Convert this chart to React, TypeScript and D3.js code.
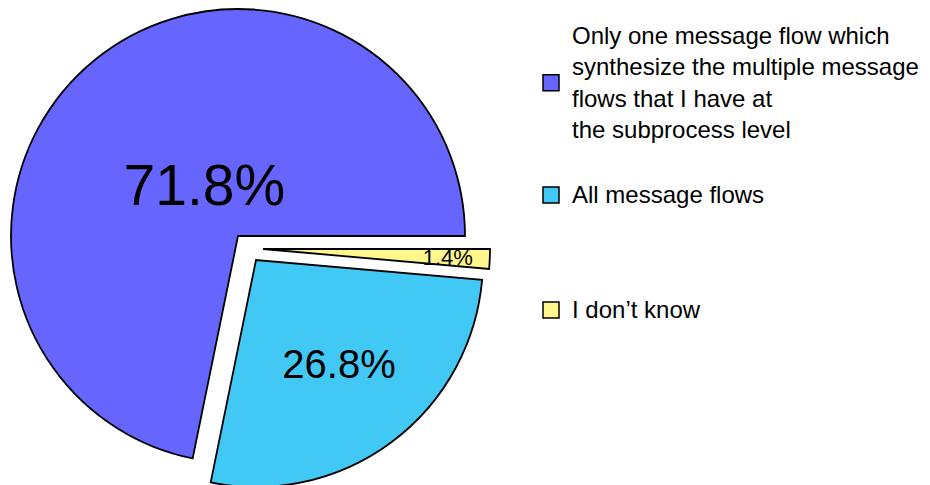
import React from "react";
import * as d3 from "d3";

const categories: string[] = [
  "Only one message flow which|synthesize the multiple message|flows that I have at|the subprocess level",
  "All message flows",
  "I don\u2019t know",
];
const values: number[] = [71.8, 26.8, 1.4];
const colors: string[] = ["#6666ff", "#42c8f4", "#fff68c"];

const W = 930;
const H = 485;
const CX = 238;
const CY = 236;
const R = 227;
// explode offsets (px) per slice
const EXPLODE: [number, number][] = [[0, 0], [18, 24], [25, 13]];
const LABEL_R = [0.27, 0.585, 0.815];
const LABEL_ROT = [-6, 2, 0];
const LABEL_SIZE = [57, 40, 22];
const FONT = "'Liberation Sans', Arial, sans-serif";

export default function App() {
  const pie = d3
    .pie<number>()
    .sort(null)
    .startAngle(Math.PI / 2)
    .endAngle(Math.PI / 2 - 2 * Math.PI);
  const arcs = pie(values);
  const arc = d3.arc<d3.PieArcDatum<number>>().innerRadius(0).outerRadius(R);

  const legendX = 572;
  const legendSq = 543;
  const legendBaselines = [43.5, 203, 318];
  const lineGap = 31.5;

  return (
    <svg
      width={W}
      height={H}
      style={{ position: "absolute", left: 0, top: 0, background: "#fff" }}
      fontFamily={FONT}
    >
      {arcs.map((a, i) => {
        const [ox, oy] = EXPLODE[i];
        const mid = (a.startAngle + a.endAngle) / 2 - (LABEL_ROT[i] * Math.PI) / 180;
        const lr = LABEL_R[i] * R;
        const lx = Math.sin(mid) * lr;
        const ly = -Math.cos(mid) * lr;
        return (
          <g key={i} transform={`translate(${CX + ox},${CY + oy})`}>
            <path
              d={arc(a) || ""}
              fill={colors[i]}
              stroke="#000"
              strokeWidth={1.8}
              strokeLinejoin="miter"
            />
            <text
              x={lx}
              y={ly}
              textAnchor="middle"
              dominantBaseline="central"
              fontSize={LABEL_SIZE[i]}
              fill="#000"
            >
              {`${values[i].toFixed(1)}%`}
            </text>
          </g>
        );
      })}
      {categories.map((c, i) => {
        const lines = c.split("|");
        const b0 = legendBaselines[i];
        const n = lines.length;
        const lastBase = b0 + (n - 1) * lineGap;
        const midY = (b0 - 16 + lastBase) / 2;
        return (
          <g key={i}>
            <rect
              x={legendSq}
              y={midY - 8}
              width={16}
              height={16}
              fill={colors[i]}
              stroke="#000"
              strokeWidth={1.5}
            />
            <text x={legendX} fontSize={24} fill="#000">
              {lines.map((l, j) => (
                <tspan key={j} x={legendX} y={b0 + j * lineGap}>
                  {l}
                </tspan>
              ))}
            </text>
          </g>
        );
      })}
    </svg>
  );
}
